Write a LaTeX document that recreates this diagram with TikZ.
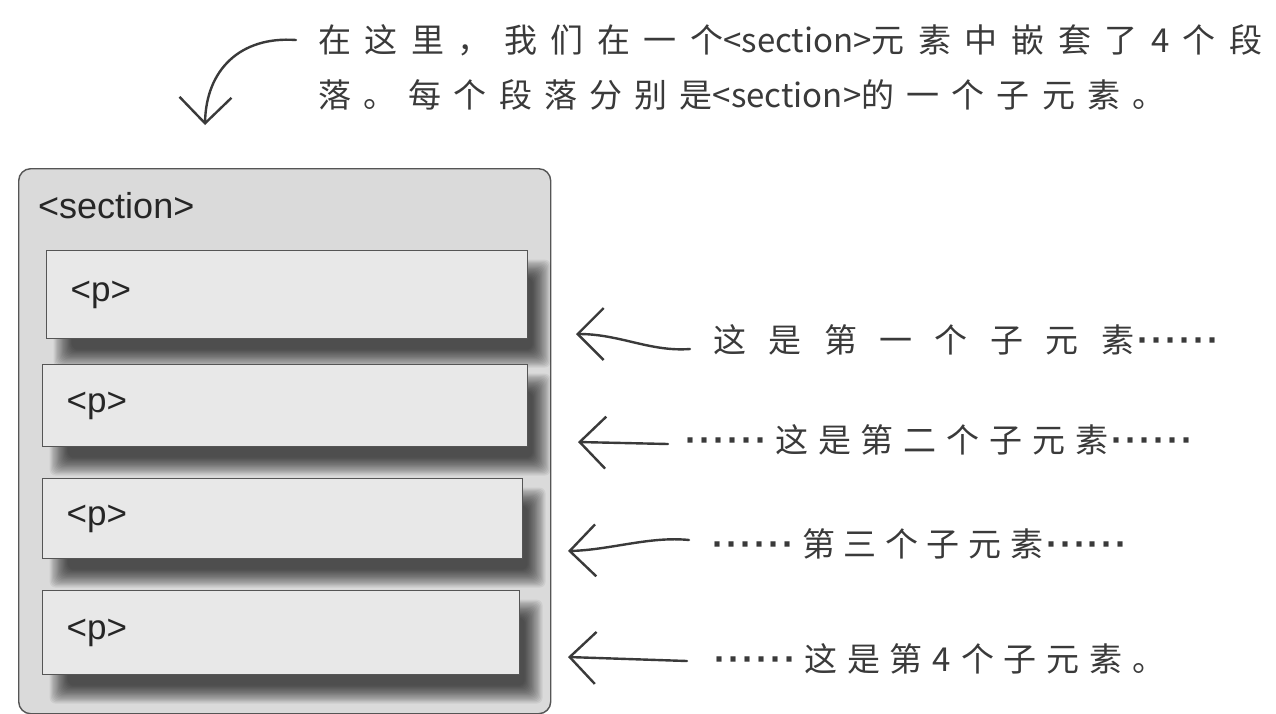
\documentclass[tikz,border=0pt]{standalone}
\usepackage{fontspec}
\setmainfont{Liberation Sans}
\newfontfamily\cjk{Noto Sans CJK SC}
\newfontfamily\dotfont{Liberation Sans}
\usetikzlibrary{arrows.meta,calc}
\definecolor{secfill}{HTML}{DADADA}
\definecolor{pfill}{HTML}{E8E8E8}
\definecolor{edge}{HTML}{555555}
\definecolor{ink}{HTML}{3A3A3A}
\pgfdeclarelayer{back}
\pgfdeclarelayer{shade}
\pgfsetlayers{back,shade,main}
\newcommand\hdots{{\dotfont\bfseries\fontsize{36}{40}\selectfont\kern3pt·\kern2pt·\kern2pt·\kern2pt·\kern2pt·\kern2pt·\kern8pt}}
\newcommand\plain[1]{{\addfontfeature{LetterSpace=0}#1}}
\tikzset{
  secbox/.style={draw=edge, line width=1.4, fill=secfill, rounded corners=12, anchor=north west, inner sep=0},
  pbox/.style={draw=edge, line width=1.2, fill=pfill, anchor=north west, inner xsep=24, inner ysep=0,
               align=left, text=black!85, font=\fontsize{35}{40}\selectfont},
  tag/.style={anchor=west, inner sep=0, text=black!85, font=\fontsize{36}{40}\selectfont},
  hand/.style={anchor=west, inner sep=0, text=ink, font=\cjk\fontsize{33}{40}\selectfont},
  harrow/.style={draw=ink, line width=2.4, line cap=round, line join=round,
                 -{Straight Barb[length=26, width=52, line width=2.4]}},
}
\begin{document}
\begin{tikzpicture}[x=1pt,y=-1pt]
\useasboundingbox (0,0) rectangle (1276,713);

% section box
\begin{pgfonlayer}{back}
\fill[white] (0,0) rectangle (1276,713);
\node[secbox, minimum width=532, minimum height=545] (sec) at (18,168) {};
\end{pgfonlayer}
\node[tag] (sectag) at (38,206) {<section>};

% paragraph boxes
\node[pbox, text width=433, minimum height=88] (p1) at (46,250) {<p>};
\node[pbox, text width=437, minimum height=82] (p2) at (42,364) {<p>};
\node[pbox, text width=432, minimum height=80] (p3) at (42,478) {<p>};
\node[pbox, text width=429, minimum height=84] (p4) at (42,590) {<p>};

% soft shadows
\begin{pgfonlayer}{shade}
\foreach \b in {p1,p2,p3,p4}{
  \foreach \i in {0,...,15}{
    \pgfmathsetmacro\d{(8-\i)*1.2}
    \fill[black, opacity=0.058, rounded corners=6]
      ($(\b.north west)+(16+\d, 18+\d)$) rectangle ($(\b.south east)+(14-\d, 20-\d)$);
  }
}
\end{pgfonlayer}

% top annotation
\node[hand] (top1) at (318,40) {\addfontfeature{LetterSpace=41}在这里，我们在一个\plain{<section>}元素中嵌套了4个段};
\node[hand] (top2) at (318,95) {\addfontfeature{LetterSpace=37}落。每个段落分别是\plain{<section>}的一个子元素。};
\coordinate (ttip) at (205,125);
\draw[harrow] ([xshift=-22]top1.west) .. controls (240,36) and (206,70) .. (ttip);

% right annotations
\node[hand] (l1) at (713,340) {\addfontfeature{LetterSpace=68}这是第一个子元素\plain{\hdots}};
\node[hand] (l2) at (682,440) {\hdots\addfontfeature{LetterSpace=30}这是第二个子元素\plain{\hdots}};
\node[hand] (l3) at (709,544) {\hdots\addfontfeature{LetterSpace=26}第三个子元素\plain{\hdots}};
\node[hand] (l4) at (711,659) {\hdots\addfontfeature{LetterSpace=30}这是第4个子元素。};

\coordinate (t1) at (576,334);
\coordinate (t2) at (578,442);
\coordinate (t3) at (568,551);
\coordinate (t4) at (568,657);

\draw[harrow] ([xshift=-23,yshift=-9]l1.west) .. controls (650,352) and (620,334) .. (t1);
\draw[harrow] ([xshift=-14,yshift=-4]l2.west) -- (t2);
\draw[harrow] ([xshift=-20,yshift=4]l3.west) .. controls (650,536) and (610,550) .. (t3);
\draw[harrow] ([xshift=-24,yshift=-2]l4.west) -- (t4);
\end{tikzpicture}
\end{document}
